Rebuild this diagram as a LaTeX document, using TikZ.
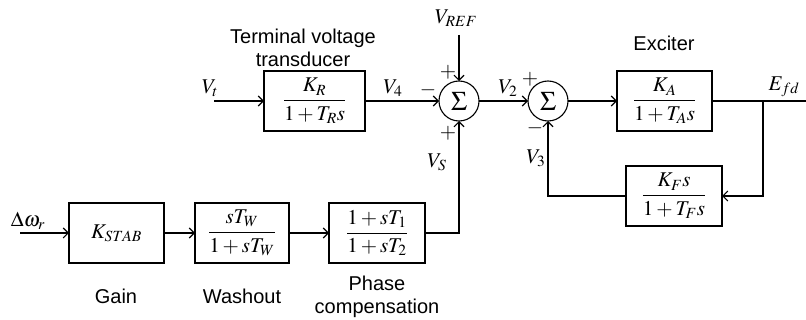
\documentclass[tikz,border=0pt]{standalone}
\usepackage{amsmath}
\usepackage{mathptmx}
\usepackage[no-math]{fontspec}
\newfontfamily\arialfont{Liberation Sans}
\usepackage{tikz}
\usetikzlibrary{arrows.meta,positioning}
\newcommand{\msize}{\fontsize{21}{25}\selectfont}
\begin{document}
\begin{tikzpicture}[x=1pt, y=1pt,
    box/.style={draw, line width=1.1pt, minimum height=60pt, inner sep=0pt, outer sep=0pt, font=\msize},
    sum/.style={draw, circle, line width=1.1pt, minimum size=40pt, inner sep=0pt, outer sep=0pt, font=\fontsize{27}{30}\selectfont},
    lbl/.style={font=\arialfont\fontsize{20}{23.5}\selectfont, align=center},
    mlbl/.style={font=\msize, inner sep=0pt},
    arr/.style={-{Straight Barb[length=5pt,width=10pt]}, line width=1.1pt},
    ln/.style={line width=1.1pt}
]
\useasboundingbox (0,0) rectangle (806,-320);
\node[sum] (s1) at (459,-101) {$\Sigma$};
\node[box, minimum width=101pt, left=74pt of s1] (tvt) {$\dfrac{K_R}{1+T_Rs}$};
\node[sum, right=49pt of s1] (s2) {$\Sigma$};
\node[box, minimum width=95pt, right=49pt of s2] (exc) {$\dfrac{K_A}{1+T_As}$};
\node[box, minimum width=96pt] (fb) at (674,-196) {$\dfrac{K_Fs}{1+T_Fs}$};
\node[box, minimum width=96pt] (ph) at (377,-233) {$\dfrac{1+sT_1}{1+sT_2}$};
\node[box, minimum width=94pt, left=40pt of ph] (wo) {$\dfrac{sT_W}{1+sT_W}$};
\node[box, minimum width=95pt, left=31pt of wo] (gn) {$K_{STAB}$};
\coordinate (vt) at (214,-101);
\coordinate (ref) at (459,-35);
\coordinate (br) at (763,-101);
\coordinate (out) at (806,-101);
\coordinate (dw) at (20,-233);
\draw[arr] (vt) -- (tvt); \draw[arr] (tvt) -- (s1);
\draw[arr] (ref) -- (s1); \draw[arr] (ph.east) -| (s1.south);
\draw[arr] (s1) -- (s2); \draw[arr] (s2) -- (exc);
\draw[ln] (exc.east) -- (out);
\draw[arr] (br) |- (fb.east); \draw[arr] (fb.west) -| (s2.south);
\draw[arr] (dw) -- (gn); \draw[arr] (gn) -- (wo); \draw[arr] (wo) -- (ph);
\node[lbl] (tvtl) at (303,-48) {Terminal voltage\\transducer};
\node[lbl] (excl) at (664,-43) {Exciter};
\node[lbl] (gnl) at (116,-296) {Gain};
\node[lbl] (wol) at (242,-296) {Washout};
\node[lbl] (phl) at (377,-297) {Phase\\compensation};
\node[mlbl] (vtl) at (210,-88) {$V_t$};
\node[mlbl] (v4l) at (393,-88) {$V_4$};
\node[mlbl] (refl) at (456,-18) {$V_{REF}$};
\node[mlbl] (vsl) at (437,-162) {$V_S$};
\node[mlbl] (v2l) at (508,-88) {$V_2$};
\node[mlbl] (v3l) at (536,-158) {$V_3$};
\node[mlbl] (efdl) at (784,-87) {$E_{fd}$};
\node[mlbl] (dwl) at (28,-221) {$\Delta\omega_r$};
\node[mlbl] (p1) at (448,-72) {$+$};
\node[mlbl] (m1) at (428,-90) {$-$};
\node[mlbl] (p2) at (448,-133) {$+$};
\node[mlbl] (p3) at (530,-79) {$+$};
\node[mlbl] (m2) at (535,-128) {$-$};
\end{tikzpicture}
\end{document}
